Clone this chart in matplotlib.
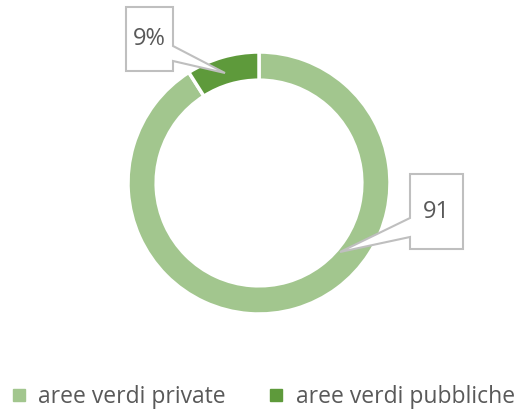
import matplotlib.pyplot as plt
from matplotlib.patches import Polygon
from matplotlib.lines import Line2D

labels = ['aree verdi private', 'aree verdi pubbliche']
values = [91, 9]
value_text = ['91', '9%']
colors = ['#a2c68e', '#5e9a3b']
text_color = '#595959'

W, H = 519, 415
fig = plt.figure(figsize=(W / 100, H / 100), dpi=100)
plt.rcParams['font.family'] = ['Open Sans', 'DejaVu Sans']

# donut centred at (259, 183) px, outer radius 131 px
cx, cy, r = 259, 183, 131
ax = fig.add_axes([(cx - r) / W, (H - cy - r) / H, 2 * r / W, 2 * r / H])

wedges, _ = ax.pie(values, colors=colors, startangle=90, counterclock=False,
                   radius=1.0, wedgeprops=dict(width=0.215, edgecolor='white',
                                               linewidth=2.5))
ax.set_xlim(-1, 1)
ax.set_ylim(-1, 1)
ax.axis('off')


def px(x, y):
    # pixel coords of the reference -> data coords
    return ((x - cx) / r, (cy - y) / r)


def callout(ax, box, ptr_side, ptr_y, tip, text):
    x0, y0, x1, y1 = box
    if ptr_side == 'right':
        pts = [(x0, y0), (x1, y0), (x1, ptr_y[0]), tip, (x1, ptr_y[1]),
               (x1, y1), (x0, y1)]
    else:
        pts = [(x0, y0), (x1, y0), (x1, y1), (x0, y1), (x0, ptr_y[1]), tip,
               (x0, ptr_y[0])]
    poly = Polygon([px(*p) for p in pts], closed=True, facecolor='white',
                   edgecolor='#bfbfbf', linewidth=1.5, clip_on=False, zorder=5)
    ax.add_patch(poly)
    tx, ty = px((x0 + x1) / 2, (y0 + y1) / 2)
    ax.text(tx, ty, text, ha='center', va='center', fontsize=17,
            color=text_color, zorder=6)


callout(ax, (126, 7, 173, 71), 'right', (46, 61), (225, 73), value_text[1])
callout(ax, (410, 174, 463, 249), 'left', (218, 237), (340, 252), value_text[0])

handles = [Line2D([], [], marker='s', linestyle='none', markersize=9,
                  markerfacecolor=c, markeredgecolor=c) for c in colors]
fig.legend(handles, labels, loc='center', bbox_to_anchor=(0.505, 1 - 397 / H),
           ncol=2, frameon=False, fontsize=16.5, labelcolor=text_color,
           handletextpad=0.45, columnspacing=1.8, handlelength=0.8)

fig.savefig('out.png', dpi=100)
